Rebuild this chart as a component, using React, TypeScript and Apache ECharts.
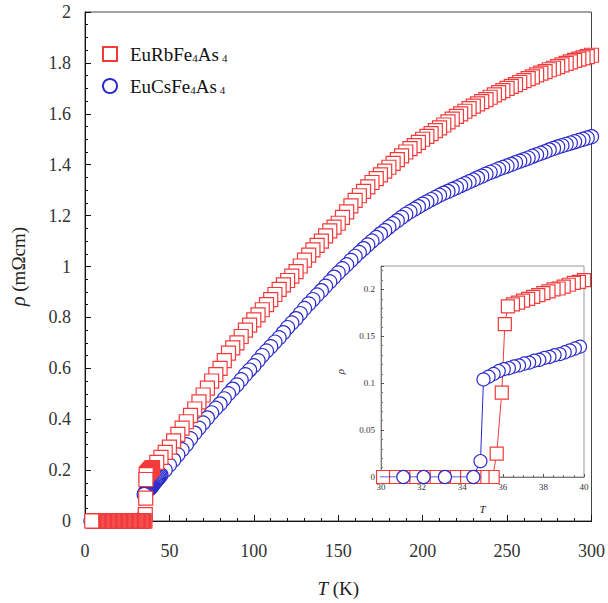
import React, { useEffect, useRef } from "react";
import * as echarts from "echarts";

// ---- data (T in K, rho in mOhm cm) ----
const rbName = "EuRbFe4As4";
const csName = "EuCsFe4As4";

// EuRbFe4As4: superconducting (zero) points, measured densely
const rbZeroT = [
  4, 4.5, 5, 5.5, 6, 6.5, 7, 7.5, 8, 8.5, 9, 9.5, 10, 10.5, 11, 11.5, 12, 12.5,
  13, 13.5, 14, 14.5, 15, 15.5, 16, 16.5, 17, 17.5, 18, 18.5, 19, 19.5, 20, 20.5,
  21, 21.5, 22, 22.5, 23, 23.5, 24, 24.5, 25, 25.5, 26, 26.5, 27, 27.5, 28, 28.5,
  29, 29.5, 30.1, 30.6, 31.1, 31.6, 32.1, 32.6, 33.1, 33.6, 34.1, 34.6, 35.0, 35.5,
];
// EuRbFe4As4: transition and dense region up to 40 K
const rbTransition: number[][] = [
  [35.7, 0.025], [35.95, 0.09], [36.1, 0.163], [36.25, 0.182], [36.5, 0.184],
  [36.75, 0.186], [37, 0.188], [37.25, 0.19], [37.5, 0.192], [37.75, 0.194],
  [38, 0.196], [38.25, 0.198], [38.5, 0.2], [38.75, 0.201], [39, 0.203],
  [39.25, 0.205], [39.5, 0.207], [39.75, 0.208], [40, 0.21],
];
// EuRbFe4As4: normal state
const rbNormal: number[][] = [
  [42.5, 0.23], [45, 0.25], [47.5, 0.27], [50, 0.29], [52.5, 0.315], [55, 0.34],
  [57.5, 0.365], [60, 0.39], [62.5, 0.415], [65, 0.44], [67.5, 0.468], [70, 0.495],
  [72.5, 0.522], [75, 0.55], [77.5, 0.575], [80, 0.6], [82.5, 0.63], [85, 0.66],
  [87.5, 0.68], [90, 0.7], [92.5, 0.725], [95, 0.75], [97.5, 0.77], [100, 0.79],
  [102.5, 0.81], [105, 0.83], [107.5, 0.85], [110, 0.87], [112.5, 0.89], [115, 0.91],
  [117.5, 0.928], [120, 0.945], [122.5, 0.962], [125, 0.98], [127.5, 1.002],
  [130, 1.025], [132.5, 1.045], [135, 1.065], [137.5, 1.083], [140, 1.1],
  [142.5, 1.12], [145, 1.14], [147.5, 1.155], [150, 1.17], [152.5, 1.193],
  [155, 1.215], [157.5, 1.238], [160, 1.26], [162.5, 1.278], [165, 1.295],
  [167.5, 1.313], [170, 1.33], [172.5, 1.345], [175, 1.36], [177.5, 1.375],
  [180, 1.39], [182.5, 1.405], [185, 1.42], [187.5, 1.435], [190, 1.45],
  [192.5, 1.463], [195, 1.475], [197.5, 1.488], [200, 1.5], [202.5, 1.511],
  [205, 1.522], [207.5, 1.534], [210, 1.545], [212.5, 1.556], [215, 1.568],
  [217.5, 1.579], [220, 1.59], [222.5, 1.6], [225, 1.61], [227.5, 1.62],
  [230, 1.63], [232.5, 1.639], [235, 1.648], [237.5, 1.656], [240, 1.665],
  [242.5, 1.674], [245, 1.683], [247.5, 1.691], [250, 1.7], [252.5, 1.708],
  [255, 1.715], [257.5, 1.723], [260, 1.73], [262.5, 1.738], [265, 1.745],
  [267.5, 1.753], [270, 1.76], [272.5, 1.766], [275, 1.773], [277.5, 1.779],
  [280, 1.785], [282.5, 1.792], [285, 1.798], [287.5, 1.804], [290, 1.81],
  [292.5, 1.815], [295, 1.82], [297.5, 1.825], [300, 1.83],
];

// EuCsFe4As4: zero points
const csZeroT = [
  3.5, 4.6, 5.7, 6.8, 7.9, 9, 10.1, 11.2, 12.3, 13.4, 14.5, 15.6, 16.7, 17.8,
  18.9, 20, 21.1, 22.2, 23.3, 24.4, 25.5, 26.6, 27.7, 28.8, 29.9, 31.1, 32.1,
  33.15, 34.55,
];
// EuCsFe4As4: transition and dense region up to 45 K
const csTransition: number[][] = [
  [34.9, 0.017], [35.05, 0.104], [35.3, 0.107], [35.55, 0.11], [35.8, 0.113],
  [36.05, 0.115], [36.3, 0.116], [36.55, 0.118], [36.8, 0.119], [37.05, 0.121],
  [37.3, 0.122], [37.55, 0.124], [37.8, 0.125], [38.05, 0.127], [38.3, 0.128],
  [38.55, 0.13], [38.8, 0.131], [39.05, 0.133], [39.3, 0.135], [39.55, 0.137],
  [39.8, 0.139], [40.05, 0.141], [40.5, 0.145], [41, 0.149], [41.5, 0.153],
  [42, 0.157], [42.5, 0.161], [43, 0.165], [43.5, 0.169], [44, 0.173],
  [44.5, 0.177], [45, 0.181],
];
// EuCsFe4As4: normal state
const csNormal: number[][] = [
  [47.5, 0.2], [50, 0.22], [52.5, 0.24], [55, 0.26], [57.5, 0.28], [60, 0.3],
  [62.5, 0.323], [65, 0.345], [67.5, 0.365], [70, 0.385], [72.5, 0.405],
  [75, 0.425], [77.5, 0.443], [80, 0.46], [82.5, 0.48], [85, 0.5], [87.5, 0.518],
  [90, 0.535], [92.5, 0.555], [95, 0.575], [97.5, 0.593], [100, 0.61],
  [102.5, 0.63], [105, 0.65], [107.5, 0.668], [110, 0.685], [112.5, 0.703],
  [115, 0.72], [117.5, 0.74], [120, 0.76], [122.5, 0.778], [125, 0.795],
  [127.5, 0.815], [130, 0.835], [132.5, 0.853], [135, 0.87], [137.5, 0.888],
  [140, 0.905], [142.5, 0.923], [145, 0.94], [147.5, 0.958], [150, 0.975],
  [152.5, 0.991], [155, 1.007], [157.5, 1.024], [160, 1.04], [162.5, 1.055],
  [165, 1.07], [167.5, 1.085], [170, 1.1], [172.5, 1.114], [175, 1.128],
  [177.5, 1.141], [180, 1.155], [182.5, 1.168], [185, 1.18], [187.5, 1.193],
  [190, 1.205], [192.5, 1.215], [195, 1.225], [197.5, 1.235], [200, 1.245],
  [202.5, 1.254], [205, 1.263], [207.5, 1.271], [210, 1.28], [212.5, 1.288],
  [215, 1.295], [217.5, 1.303], [220, 1.31], [222.5, 1.318], [225, 1.325],
  [227.5, 1.333], [230, 1.34], [232.5, 1.348], [235, 1.355], [237.5, 1.363],
  [240, 1.37], [242.5, 1.376], [245, 1.383], [247.5, 1.389], [250, 1.395],
  [252.5, 1.401], [255, 1.408], [257.5, 1.414], [260, 1.42], [262.5, 1.426],
  [265, 1.433], [267.5, 1.439], [270, 1.445], [272.5, 1.451], [275, 1.458],
  [277.5, 1.464], [280, 1.47], [282.5, 1.475], [285, 1.48], [287.5, 1.485],
  [290, 1.49], [292.5, 1.495], [295, 1.5], [297.5, 1.505], [300, 1.51],
];

const RED = "#f23a3a";
const BLUE = "#2b2bcc";
const SERIF = "'Liberation Serif', 'Times New Roman', serif";

// measured on cooling: draw from high T to low T
const rbData = [...rbZeroT.map((t) => [t, 0]), ...rbTransition, ...rbNormal].reverse();
const csData = [...csZeroT.map((t) => [t, 0]), ...csTransition, ...csNormal].reverse();

export default function App() {
  const ref = useRef<HTMLDivElement>(null);
  useEffect(() => {
    if (!ref.current) return;
    const chart = echarts.init(ref.current, null, { renderer: "svg" });
    const subRich = {
      n: { fontFamily: SERIF, fontSize: 19, color: "#111" },
      s: { fontFamily: SERIF, fontSize: 11, color: "#111", padding: [8, 0, 0, 0] },
      s2: { fontFamily: SERIF, fontSize: 11, color: "#111", padding: [8, 0, 0, 3] },
    };
    chart.setOption({
      animation: false,
      backgroundColor: "#fff",
      legend: {
        orient: "vertical",
        left: 97,
        top: 38,
        itemWidth: 14,
        itemHeight: 14,
        itemGap: 10,
        selectedMode: false,
        data: [
          { name: rbName, icon: "rect" },
          { name: csName, icon: "circle" },
        ],
        formatter: (name: string) =>
          name === rbName
            ? "{n|EuRbFe}{s|4}{n|As}{s2|4}"
            : "{n|EuCsFe}{s|4}{n|As}{s2|4}",
        textStyle: { rich: subRich, padding: [0, 0, 0, 8], lineHeight: 22 },
      },
      grid: [
        {
          left: 81,
          right: 15,
          top: 12,
          bottom: 80,
          show: true,
          borderColor: "#444",
          borderWidth: 1,
          backgroundColor: "#fff",
        },
        {
          left: 381,
          right: 24,
          top: 266,
          bottom: 126,
          show: true,
          borderColor: "#999",
          borderWidth: 1,
          backgroundColor: "#fff",
          z: 5,
        },
      ],
      xAxis: [
        {
          gridIndex: 0,
          type: "value",
          min: 0,
          max: 300,
          interval: 50,
          name: "{i|T} (K)",
          nameLocation: "middle",
          nameGap: 58,
          nameTextStyle: {
            fontFamily: SERIF,
            fontSize: 19,
            color: "#222",
            rich: { i: { fontFamily: SERIF, fontSize: 19, fontStyle: "italic", color: "#222" } },
          },
          axisLine: { lineStyle: { color: "#111", width: 1 } },
          axisTick: { inside: true, length: 6, lineStyle: { color: "#111" } },
          minorTick: { show: true, splitNumber: 5, length: 3, lineStyle: { color: "#111" } },
          splitLine: { show: false },
          axisLabel: { fontFamily: SERIF, fontSize: 18, color: "#333", margin: 21 },
        },
        {
          gridIndex: 1,
          type: "value",
          min: 30,
          max: 40,
          interval: 2,
          name: "{i|T}",
          nameLocation: "middle",
          nameGap: 26,
          nameTextStyle: {
            rich: { i: { fontFamily: SERIF, fontSize: 11, fontStyle: "italic", color: "#222" } },
          },
          axisLine: { lineStyle: { color: "#777", width: 1 } },
          axisTick: { inside: true, length: 3, lineStyle: { color: "#555" } },
          minorTick: { show: true, splitNumber: 4, length: 2, lineStyle: { color: "#777" } },
          splitLine: { show: false },
          axisLabel: { fontFamily: SERIF, fontSize: 9, color: "#333", margin: 5 },
          z: 6,
        },
      ],
      yAxis: [
        {
          gridIndex: 0,
          type: "value",
          min: 0,
          max: 2,
          interval: 0.2,
          name: "{i|ρ} (mΩcm)",
          nameLocation: "middle",
          nameGap: 57,
          nameTextStyle: {
            fontFamily: SERIF,
            fontSize: 19,
            color: "#222",
            rich: { i: { fontFamily: SERIF, fontSize: 20, fontStyle: "italic", color: "#222" } },
          },
          axisLine: { lineStyle: { color: "#111", width: 1 } },
          axisTick: { inside: true, length: 6, lineStyle: { color: "#111" } },
          minorTick: { show: true, splitNumber: 4, length: 3, lineStyle: { color: "#111" } },
          splitLine: { show: false },
          axisLabel: { fontFamily: SERIF, fontSize: 18, color: "#333", margin: 14 },
        },
        {
          gridIndex: 1,
          type: "value",
          min: 0,
          max: 0.225,
          interval: 0.05,
          name: "{i|ρ}",
          nameLocation: "middle",
          nameGap: 36,
          nameTextStyle: {
            rich: { i: { fontFamily: SERIF, fontSize: 11, fontStyle: "italic", color: "#222" } },
          },
          axisLine: { lineStyle: { color: "#777", width: 1 } },
          axisTick: { inside: true, length: 3, lineStyle: { color: "#555" } },
          minorTick: { show: true, splitNumber: 5, length: 2, lineStyle: { color: "#777" } },
          splitLine: { show: false },
          axisLabel: { fontFamily: SERIF, fontSize: 9, color: "#333", margin: 6, showMaxLabel: false },
          z: 6,
        },
      ],
      series: [
        {
          name: csName,
          type: "scatter",
          xAxisIndex: 0,
          yAxisIndex: 0,
          symbol: "circle",
          symbolSize: 14,
          itemStyle: { color: "#fff", borderColor: BLUE, borderWidth: 1.2, opacity: 1 },
          data: csData,
          z: 2,
        },
        {
          name: rbName,
          type: "scatter",
          xAxisIndex: 0,
          yAxisIndex: 0,
          symbol: "rect",
          symbolSize: 14,
          itemStyle: { color: "#fff", borderColor: RED, borderWidth: 1.2, opacity: 1 },
          data: rbData,
          z: 3,
        },
        {
          name: "rbInset",
          type: "line",
          xAxisIndex: 1,
          yAxisIndex: 1,
          symbol: "rect",
          symbolSize: 13,
          showSymbol: true,
          showAllSymbol: true,
          clip: true,
          lineStyle: { color: RED, width: 1 },
          itemStyle: { color: "#fff", borderColor: RED, borderWidth: 1.2 },
          data: rbData,
          z: 7,
        },
        {
          name: "csInset",
          type: "line",
          xAxisIndex: 1,
          yAxisIndex: 1,
          symbol: "circle",
          symbolSize: 13,
          showSymbol: true,
          showAllSymbol: true,
          clip: true,
          lineStyle: { color: BLUE, width: 1 },
          itemStyle: { color: "#fff", borderColor: BLUE, borderWidth: 1.2 },
          data: csData,
          z: 8,
        },
      ],
    });
    return () => chart.dispose();
  }, []);
  return <div ref={ref} style={{ width: 608, height: 603, position: "absolute", left: 0, top: 0 }} />;
}
